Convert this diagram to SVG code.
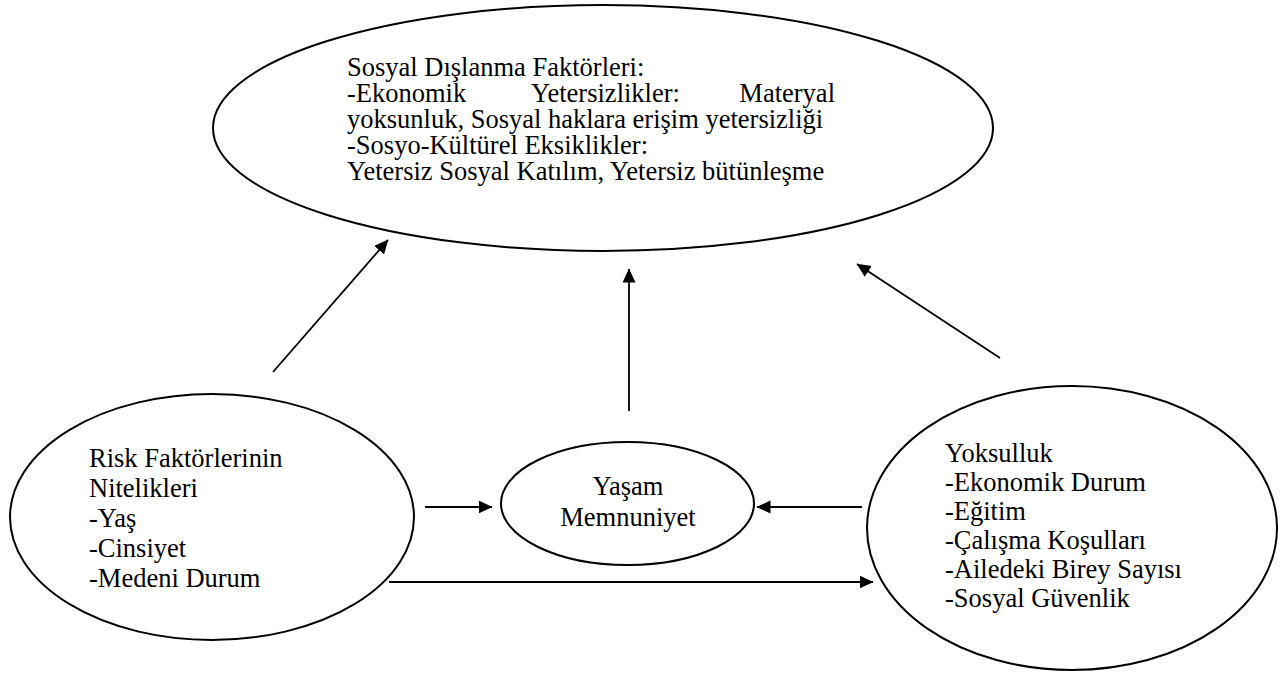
<svg xmlns="http://www.w3.org/2000/svg" width="1285" height="675" viewBox="0 0 1285 675">
<defs>
<style>
.node ellipse { fill: none; stroke: #000; stroke-width: 2; }
text { font-family: "Liberation Serif", "Times New Roman", serif; font-size: 26.5px; fill: #000; }
.conn line { stroke: #000; stroke-width: 1.8; marker-end: url(#ah); }
</style>
<marker id="ah" markerUnits="userSpaceOnUse" markerWidth="16" markerHeight="14" refX="13.5" refY="6.5" orient="auto">
<path d="M0,0 L14,6.5 L0,13 z" fill="#000"/>
</marker>
</defs>
<rect width="1285" height="675" fill="#fff"/>

<g id="sosyal-dislanma" class="node">
<ellipse cx="603" cy="128" rx="390" ry="123"/>
<text x="347" y="76">Sosyal Dışlanma Faktörleri:</text>
<text x="347" y="102">-Ekonomik</text>
<text x="531" y="102">Yetersizlikler:</text>
<text x="835" y="102" text-anchor="end">Materyal</text>
<text x="347" y="128">yoksunluk, Sosyal haklara erişim yetersizliği</text>
<text x="347" y="154">-Sosyo-Kültürel Eksiklikler:</text>
<text x="347" y="180">Yetersiz Sosyal Katılım, Yetersiz bütünleşme</text>
</g>

<g id="risk-faktorleri" class="node">
<ellipse cx="212" cy="517" rx="202" ry="123"/>
<text x="89" y="467">Risk Faktörlerinin</text>
<text x="89" y="497">Nitelikleri</text>
<text x="89" y="527">-Yaş</text>
<text x="89" y="557">-Cinsiyet</text>
<text x="89" y="587">-Medeni Durum</text>
</g>

<g id="yasam-memnuniyet" class="node">
<ellipse cx="627.5" cy="503.5" rx="126.5" ry="61.5"/>
<text x="628" y="495" text-anchor="middle">Yaşam</text>
<text x="628" y="526" text-anchor="middle">Memnuniyet</text>
</g>

<g id="yoksulluk" class="node">
<ellipse cx="1072" cy="528" rx="205" ry="142"/>
<text x="945" y="462">Yoksulluk</text>
<text x="945" y="491">-Ekonomik Durum</text>
<text x="945" y="520">-Eğitim</text>
<text x="945" y="549">-Çalışma Koşulları</text>
<text x="945" y="578">-Ailedeki Birey Sayısı</text>
<text x="945" y="607">-Sosyal Güvenlik</text>
</g>

<g id="connectors" class="conn">
<line x1="273" y1="372" x2="388" y2="240"/>
<line x1="629" y1="411" x2="629" y2="269"/>
<line x1="1000" y1="358" x2="857" y2="264"/>
<line x1="425" y1="507" x2="492" y2="507"/>
<line x1="862" y1="507" x2="757" y2="507"/>
<line x1="389" y1="582" x2="873" y2="582"/>
</g>
</svg>
